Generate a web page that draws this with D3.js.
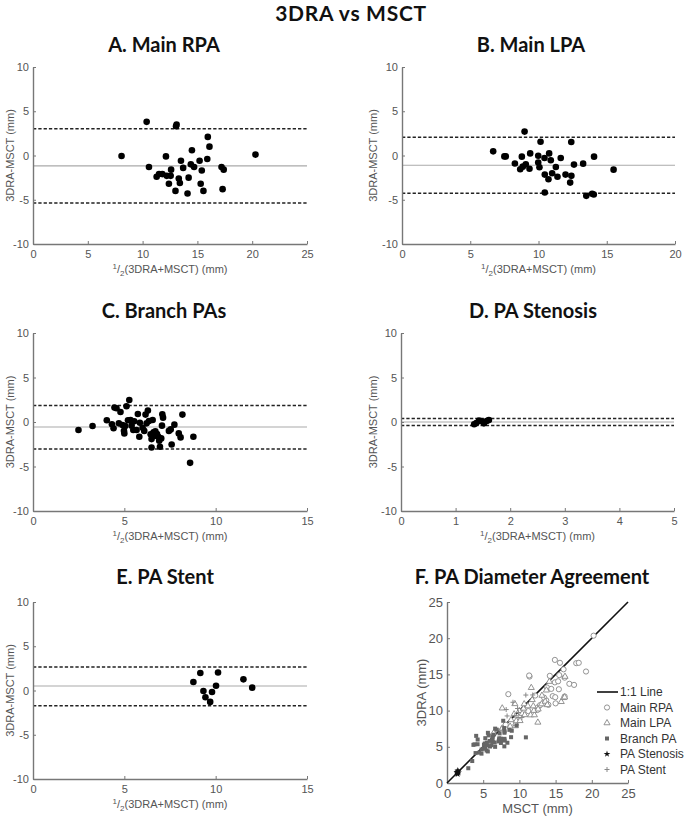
<!DOCTYPE html>
<html lang="en">
<head>
<meta charset="utf-8">
<title>3DRA vs MSCT</title>
<script src="https://d3js.org/d3.v7.min.js"></script>
<style>
  body { margin: 0; background: #fff; }
  .tick text { font-family: "Liberation Sans", Arial, sans-serif; fill: #555; }
  .title { font-family: Lato, "Open Sans", sans-serif; font-weight: bold; fill: #111; }
  .lab { font-family: "Liberation Sans", Arial, sans-serif; fill: #555; }
</style>
</head>
<body>
<script>
// ---- data ----
var mainTitle = "3DRA vs MSCT";
var panelTitles = ["A. Main RPA", "B. Main LPA", "C. Branch PAs", "D. PA Stenosis", "E. PA Stent", "F. PA Diameter Agreement"];

// Bland-Altman: average of methods, difference (3DRA - MSCT), [lower LoA, bias, upper LoA]
var rpaAvg  = [8.08, 10.37, 10.58, 11.28, 11.5, 11.8, 12.13, 12.2, 12.4, 12.56, 12.6, 13.05, 13.1, 13.0, 13.3, 13.4, 13.5, 13.7, 14.1, 14.2, 14.4, 14.5, 14.7, 15.2, 15.3, 15.4, 15.55, 15.9, 15.95, 16.1, 17.2, 17.4, 17.3, 20.3];
var rpaDiff = [-0.06, 3.8, -1.3, -2.4, -2.1, -2.1, -0.1, -2.3, -3.2, -2.3, -1.6, 3.3, 3.5, -4.0, -2.6, -3.1, -0.6, -1.4, -4.3, -2.5, -1.0, 0.6, -1.3, -0.6, -3.2, -1.7, -4.0, -0.4, 2.1, 1.0, -1.3, -1.6, -3.8, 0.1];
var rpaLines = [-5.38, -1.18, 3.02];

var lpaAvg  = [6.68, 7.5, 7.6, 8.27, 8.66, 8.78, 8.85, 8.98, 9.07, 9.34, 9.39, 9.98, 9.98, 10.07, 10.15, 10.44, 10.46, 10.46, 10.73, 10.78, 10.9, 11.0, 11.27, 11.39, 11.63, 11.98, 12.4, 12.41, 12.32, 12.6, 13.27, 13.5, 13.93, 14.05, 14.07, 15.5];
var lpaDiff = [0.47, -0.1, -0.1, -0.9, -1.56, -0.13, -1.26, 2.7, -1.0, -1.5, 0.24, -0.02, -0.8, -1.33, 1.56, -0.28, -2.16, -4.18, -2.68, 0.24, -0.54, -2.0, -1.3, -2.4, -0.28, -2.16, 1.52, -2.3, -3.06, -1.03, -0.92, -4.56, -4.33, -4.4, -0.13, -1.6];
var lpaLines = [-4.26, -1.1, 2.05];

var branchAvg  = [2.49, 3.26, 4.04, 4.32, 4.41, 4.46, 4.57, 4.7, 4.79, 4.9, 4.98, 5.0, 5.05, 5.12, 5.2, 5.27, 5.34, 5.4, 5.49, 5.54, 5.67, 5.74, 5.82, 5.85, 6.0, 6.09, 6.16, 6.22, 6.29, 6.35, 6.44, 6.49, 6.49, 6.55, 6.6, 6.66, 6.7, 6.79, 6.86, 6.91, 6.95, 7.02, 7.06, 7.08, 7.12, 7.44, 7.54, 7.59, 7.74, 7.98, 8.08, 8.18, 8.6, 8.78];
var branchDiff = [-0.9, -0.45, 0.19, -0.26, -0.71, 1.62, 1.54, -0.15, 1.13, -0.34, -0.98, -1.28, -0.45, 1.77, 0.19, 2.48, 0.23, -0.41, -0.9, 0.08, -0.9, 0.9, -1.65, -0.08, -0.64, -1.0, 0.83, -0.15, 1.28, 0.11, -1.39, -1.92, -2.86, 0.23, -1.17, -1.58, -1.05, -1.35, -1.65, -2.1, -2.78, -1.84, -0.41, 0.86, 0.49, -1.0, -0.83, -2.52, -0.3, -1.28, -1.73, 0.83, -4.59, -1.65];
var branchLines = [-3.04, -0.56, 1.84];

var stenAvg  = [1.34, 1.38, 1.43, 1.48, 1.52, 1.57, 1.61];
var stenDiff = [-0.26, -0.11, 0.15, 0.08, -0.15, 0.11, 0.23];
var stenLines = [-0.38, 0.0, 0.38];

var stentAvg  = [8.78, 9.16, 9.33, 9.44, 9.7, 9.8, 10.02, 10.13, 11.52, 12.0];
var stentDiff = [0.96, 1.97, -0.06, -0.77, -1.29, -0.17, 0.54, 2.04, 1.26, 0.32];
var stentLines = [-1.71, 0.51, 2.65];

var baYTicks = [-10, -5, 0, 5, 10];
var xTicks25 = [0, 5, 10, 15, 20, 25];
var xTicks20 = [0, 5, 10, 15, 20];
var xTicks15 = [0, 5, 10, 15];
var xTicks5  = [0, 1, 2, 3, 4, 5];
var fTicks   = [0, 5, 10, 15, 20, 25];
var legendLabels = ["1:1 Line", "Main RPA", "Main LPA", "Branch PA", "PA Stenosis", "PA Stent"];

// ---- layout ----
var W = 685, H = 820;
var svg = d3.select("body").append("svg").attr("width", W).attr("height", H);

svg.append("text").attr("class", "title")
  .attr("x", 351).attr("y", 20.5).attr("text-anchor", "middle")
  .style("font-size", "21px").style("letter-spacing", "0.7px").text(mainTitle);

var baPanels = [
  {t: 0, avg: rpaAvg, diff: rpaDiff, lines: rpaLines, ticks: xTicks25, x0: 33, x1: 307, y0: 67, y1: 244, tx: 164, ty: 52, lx: 10},
  {t: 1, avg: lpaAvg, diff: lpaDiff, lines: lpaLines, ticks: xTicks20, x0: 402, x1: 675, y0: 67, y1: 244, tx: 531, ty: 52, lx: 373},
  {t: 2, avg: branchAvg, diff: branchDiff, lines: branchLines, ticks: xTicks15, x0: 33, x1: 307, y0: 333, y1: 511, tx: 164, ty: 318, lx: 10},
  {t: 3, avg: stenAvg, diff: stenDiff, lines: stenLines, ticks: xTicks5, x0: 401, x1: 674, y0: 333, y1: 511, tx: 533, ty: 318, lx: 373},
  {t: 4, avg: stentAvg, diff: stentDiff, lines: stentLines, ticks: xTicks15, x0: 33, x1: 307, y0: 602, y1: 779, tx: 165, ty: 584, lx: 10}
];

function styleAxis(g) {
  g.select(".domain").attr("stroke", "#777").attr("stroke-width", 1.4);
  g.selectAll(".tick line").attr("stroke", "#777");
}

baPanels.forEach(function(p) {
  var x = d3.scaleLinear().domain([p.ticks[0], p.ticks[p.ticks.length - 1]]).range([p.x0, p.x1]);
  var y = d3.scaleLinear().domain([-10, 10]).range([p.y1, p.y0]);
  var g = svg.append("g");

  g.append("text").attr("class", "title")
    .attr("x", p.tx).attr("y", p.ty).attr("text-anchor", "middle")
    .style("font-size", "20px").text(panelTitles[p.t]);

  // limits of agreement (dashed) and bias (solid grey)
  g.append("line").attr("x1", p.x0).attr("x2", p.x1)
    .attr("y1", y(p.lines[1])).attr("y2", y(p.lines[1]))
    .attr("stroke", "#aaa").attr("stroke-width", 1.2);
  [p.lines[0], p.lines[2]].forEach(function(v) {
    g.append("line").attr("x1", p.x0).attr("x2", p.x1)
      .attr("y1", y(v)).attr("y2", y(v))
      .attr("stroke", "#222").attr("stroke-width", 1.5)
      .attr("stroke-dasharray", "3.3,2");
  });

  var xa = g.append("g").attr("transform", "translate(0," + p.y1 + ")")
    .call(d3.axisBottom(x).tickValues(p.ticks).tickSizeInner(-3).tickSizeOuter(0)
      .tickPadding(6).tickFormat(function(d) { return String(d); }));
  xa.selectAll("text").style("font-size", "11px");
  styleAxis(xa);

  var ya = g.append("g").attr("transform", "translate(" + p.x0 + ",0)")
    .call(d3.axisLeft(y).tickValues(baYTicks).tickSizeInner(-3).tickSizeOuter(0)
      .tickPadding(4).tickFormat(function(d) { return String(d); }));
  ya.selectAll("text").style("font-size", "11px");
  styleAxis(ya);

  g.selectAll("circle.pt").data(p.avg).enter().append("circle")
    .attr("class", "pt")
    .attr("cx", function(d) { return x(d); })
    .attr("cy", function(d, i) { return y(p.diff[i]); })
    .attr("r", 3.3).attr("fill", "#000");

  // y label
  g.append("text").attr("class", "lab")
    .attr("transform", "translate(" + p.lx + "," + ((p.y0 + p.y1) / 2) + ") rotate(-90)")
    .attr("text-anchor", "middle").attr("dy", "0.35em")
    .style("font-size", "11px").text("3DRA-MSCT (mm)");

  // x label: 1/2(3DRA+MSCT) (mm)
  var xl = g.append("text").attr("class", "lab")
    .attr("x", (p.x0 + p.x1) / 2).attr("y", p.y1 + 29)
    .attr("text-anchor", "middle").style("font-size", "11px");
  xl.append("tspan").attr("dy", -4).style("font-size", "8px").text("1");
  xl.append("tspan").attr("dy", 4).text("/");
  xl.append("tspan").attr("dy", 3).style("font-size", "8px").text("2");
  xl.append("tspan").attr("dy", -3).text("(3DRA+MSCT) (mm)");
});

// ---- panel F: 3DRA vs MSCT, recovered from the A-E pairs ----
var F = {x0: 447, x1: 628, y0: 602, y1: 783};
var fx = d3.scaleLinear().domain([0, 25]).range([F.x0, F.x1]);
var fy = d3.scaleLinear().domain([0, 25]).range([F.y1, F.y0]);
var gf = svg.append("g");

gf.append("text").attr("class", "title")
  .attr("x", 532).attr("y", 584).attr("text-anchor", "middle")
  .style("font-size", "20px").text(panelTitles[5]);

function pairs(avg, diff) {
  return avg.map(function(a, i) { return {msct: a - diff[i] / 2, dra: a + diff[i] / 2}; });
}

var fxa = gf.append("g").attr("transform", "translate(0," + F.y1 + ")")
  .call(d3.axisBottom(fx).tickValues(fTicks).tickSizeInner(-3).tickSizeOuter(0).tickPadding(6));
fxa.selectAll("text").style("font-size", "13px");
styleAxis(fxa);
var fya = gf.append("g").attr("transform", "translate(" + F.x0 + ",0)")
  .call(d3.axisLeft(fy).tickValues(fTicks).tickSizeInner(-3).tickSizeOuter(0).tickPadding(4));
fya.selectAll("text").style("font-size", "13px");
styleAxis(fya);

gf.append("line").attr("x1", fx(0)).attr("y1", fy(0)).attr("x2", fx(25)).attr("y2", fy(25))
  .attr("stroke", "#111").attr("stroke-width", 1.6);

var tri = d3.symbol().type(d3.symbolTriangle).size(16)();
var star = d3.symbol().type(d3.symbolStar).size(14)();
var plus = "M-2.5,0H2.5M0,-2.5V2.5";
var groups = [
  {data: pairs(rpaAvg, rpaDiff), kind: "circle"},
  {data: pairs(lpaAvg, lpaDiff), kind: "tri"},
  {data: pairs(branchAvg, branchDiff), kind: "square"},
  {data: pairs(stenAvg, stenDiff), kind: "star"},
  {data: pairs(stentAvg, stentDiff), kind: "plus"}
];

function drawMarker(sel, kind) {
  if (kind === "circle") {
    sel.append("circle").attr("r", 2.6).attr("fill", "#fff").attr("stroke", "#888").attr("stroke-width", 0.9);
  } else if (kind === "tri") {
    sel.append("path").attr("d", tri).attr("fill", "#fff").attr("stroke", "#888").attr("stroke-width", 0.9);
  } else if (kind === "square") {
    sel.append("rect").attr("x", -2).attr("y", -2).attr("width", 4).attr("height", 4).attr("fill", "#666");
  } else if (kind === "star") {
    sel.append("path").attr("d", star).attr("fill", "#111");
  } else {
    sel.append("path").attr("d", plus).attr("stroke", "#888").attr("stroke-width", 1);
  }
}

groups.forEach(function(gr) {
  gf.selectAll(null).data(gr.data).enter().append("g")
    .attr("transform", function(d) { return "translate(" + fx(d.msct) + "," + fy(d.dra) + ")"; })
    .each(function() { drawMarker(d3.select(this), gr.kind); });
});

gf.append("text").attr("class", "lab")
  .attr("transform", "translate(421," + ((F.y0 + F.y1) / 2) + ") rotate(-90)")
  .attr("text-anchor", "middle").attr("dy", "0.35em")
  .style("font-size", "13px").text("3DRA (mm)");
gf.append("text").attr("class", "lab")
  .attr("x", (F.x0 + F.x1) / 2).attr("y", 813).attr("text-anchor", "middle")
  .style("font-size", "13px").text("MSCT (mm)");

// legend
var leg = gf.append("g").attr("transform", "translate(597,692)");
legendLabels.forEach(function(lbl, i) {
  var row = leg.append("g").attr("transform", "translate(0," + (i * 15.5) + ")");
  if (i === 0) {
    row.append("line").attr("x1", 0).attr("x2", 21).attr("stroke", "#111").attr("stroke-width", 1.6);
  } else {
    var m = row.append("g").attr("transform", "translate(10,0)");
    drawMarker(m, groups[i - 1].kind);
  }
  row.append("text").attr("x", 23).attr("dy", "0.35em")
    .style("font-family", "'Liberation Sans', Arial, sans-serif")
    .style("font-size", "12px").attr("fill", "#333").text(lbl);
});
</script>
</body>
</html>
